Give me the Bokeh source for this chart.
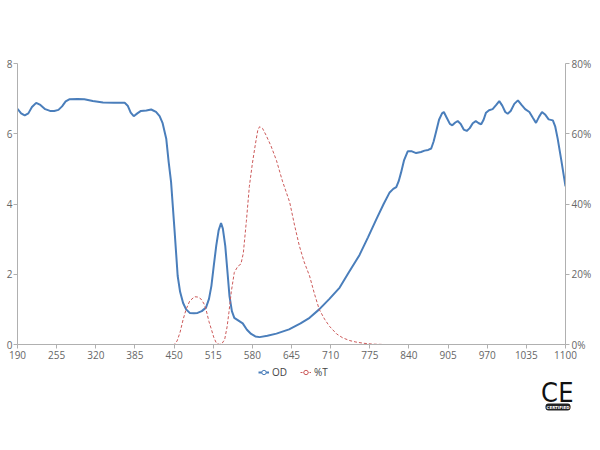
from bokeh.plotting import figure
from bokeh.layouts import column
from bokeh.models import (Range1d, LinearAxis, FixedTicker, PrintfTickFormatter,
                          Legend, LegendItem, Label, ColumnDataSource)
from bokeh.embed import file_html
from bokeh.resources import INLINE

# ---------------- data ----------------
od_nm = [190, 196, 202, 208, 214, 221, 228, 236, 244, 251, 258, 264, 270, 276, 290, 301,
         315, 332, 350, 368, 373, 378, 383, 389, 395, 404, 412, 420, 426, 431, 437, 441,
         445, 451, 456, 460, 465, 470, 476, 483, 489, 496, 503, 508, 512, 516, 520, 524,
         528, 531, 535, 539, 542, 546, 550, 557, 564, 571, 578, 585, 592, 605, 620, 641,
         660, 675, 691, 708, 725, 740, 758, 772, 786, 798, 808, 814, 819, 823, 827, 832,
         838, 845, 852, 860, 866, 872, 877, 881, 885, 890, 895, 898, 903, 908, 912, 917,
         921, 926, 931, 936, 941, 946, 951, 956, 960, 964, 968, 973, 979, 985, 990, 995,
         1000, 1004, 1009, 1015, 1021, 1027, 1033, 1040, 1046, 1051, 1056, 1061, 1066,
         1072, 1079, 1083, 1087, 1093, 1100]
od_val = [6.71, 6.58, 6.52, 6.58, 6.76, 6.88, 6.82, 6.70, 6.65, 6.65, 6.68, 6.78, 6.92,
          6.98, 6.99, 6.98, 6.93, 6.89, 6.88, 6.88, 6.80, 6.60, 6.50, 6.58, 6.65, 6.66,
          6.69, 6.62, 6.50, 6.30, 5.86, 5.20, 4.63, 3.20, 1.95, 1.50, 1.18, 1.00, 0.90,
          0.89, 0.90, 0.95, 1.05, 1.30, 1.67, 2.25, 2.81, 3.25, 3.46, 3.30, 2.81, 2.00,
          1.38, 0.95, 0.76, 0.68, 0.60, 0.42, 0.30, 0.23, 0.21, 0.25, 0.31, 0.43, 0.60,
          0.76, 1.00, 1.30, 1.62, 2.05, 2.55, 3.05, 3.57, 4.00, 4.33, 4.43, 4.48, 4.65,
          4.90, 5.25, 5.50, 5.50, 5.45, 5.48, 5.52, 5.54, 5.58, 5.78, 6.05, 6.40, 6.58,
          6.62, 6.45, 6.28, 6.24, 6.32, 6.36, 6.28, 6.12, 6.08, 6.16, 6.30, 6.36, 6.30,
          6.27, 6.40, 6.60, 6.67, 6.70, 6.82, 6.93, 6.80, 6.62, 6.57, 6.65, 6.85, 6.95,
          6.82, 6.70, 6.62, 6.45, 6.31, 6.48, 6.62, 6.55, 6.41, 6.38, 6.20, 5.86, 5.25,
          4.50]

t_nm = [190, 450, 455, 460, 465, 470, 476, 484, 490, 495, 500, 503, 508, 512, 516, 520,
        525, 530, 534, 538, 541, 545, 550, 556, 561, 565, 570, 575, 580, 585, 589, 592,
        597, 603, 611, 620, 630, 642, 650, 658, 666, 675, 683, 691, 700, 708, 720, 730,
        742, 752, 765, 780, 800, 1100]
t_val = [0, 0, 1.0, 3.5, 7.1, 10.0, 12.4, 13.6, 13.5, 12.9, 11.5, 10.0, 6.5, 4.3, 2.0,
         0.5, 0, 0.4, 1.4, 5.0, 9.0, 15.0, 20.5, 22.3, 22.9, 26.0, 35.0, 45.0, 51.5, 57.0,
         61.0, 62.0, 61.5, 59.5, 56.5, 52.4, 46.5, 40.5, 34.0, 28.1, 23.5, 19.5, 14.5,
         10.0, 7.2, 5.2, 3.0, 1.9, 1.1, 0.7, 0.35, 0.1, 0, 0]

x_ticks = [190, 255, 320, 385, 450, 515, 580, 645, 710, 775, 840, 905, 970, 1035, 1100]
od_ticks = [0, 2, 4, 6, 8]
pct_ticks = [0, 20, 40, 60, 80]
series_names = ["OD", "%T"]

# ---------------- styling ----------------
BLUE = "#4a7ebb"
RED = "#cc5a5a"
AXIS = "#b0b0b0"
LABEL = "#666666"
FONT = "Open Sans"
FRAME_W = 548
FIG_W = 17 + FRAME_W + 26

p = figure(frame_width=FRAME_W, frame_height=281, output_backend="svg", toolbar_location=None,
           x_range=Range1d(190, 1100), y_range=Range1d(0, 8),
           min_border_left=17, min_border_right=26, min_border_top=63,
           min_border_bottom=22, x_axis_location="below", y_axis_location="left")
p.outline_line_color = None
p.xgrid.visible = False
p.ygrid.visible = False
p.extra_y_ranges = {"pct": Range1d(0, 80)}

def style_axis(ax):
    ax.axis_line_color = AXIS
    ax.major_tick_line_color = AXIS
    ax.minor_tick_line_color = None
    ax.major_tick_in = 0
    ax.major_tick_out = 4
    ax.major_label_text_color = LABEL
    ax.major_label_text_font = FONT
    ax.major_label_text_font_size = "10px"
    ax.major_label_standoff = 2

p.xaxis.ticker = FixedTicker(ticks=x_ticks)
p.yaxis.ticker = FixedTicker(ticks=od_ticks)
style_axis(p.xaxis[0])
style_axis(p.yaxis[0])
p.yaxis[0].major_label_standoff = 1

rax = LinearAxis(y_range_name="pct", ticker=FixedTicker(ticks=pct_ticks),
                 formatter=PrintfTickFormatter(format="%d%%"))
style_axis(rax)
p.add_layout(rax, "right")

od_src = ColumnDataSource(dict(x=od_nm, y=od_val))
t_src = ColumnDataSource(dict(x=t_nm, y=t_val))

p.line("x", "y", source=od_src, line_color=BLUE, line_width=2)
p.line("x", "y", source=t_src, line_color=RED, line_width=1,
       line_dash="3 2", y_range_name="pct")

# ---------------- legend + CE mark strip ----------------
q = figure(width=FIG_W, height=70, output_backend="svg", toolbar_location=None,
           y_range=Range1d(0, 70), min_border=0,
           x_axis_type=None, y_axis_type=None)
if "frame_align" in q.properties():
    q.frame_align = False
    q.x_range = Range1d(0, FIG_W)
    off = 0                      # frame spans the whole strip
else:
    q.min_border_left = 17
    q.min_border_right = 26
    q.x_range = Range1d(0, FRAME_W)
    off = 17                     # frame aligned with the main plot frame
q.outline_line_color = None
q.xgrid.visible = False
q.ygrid.visible = False

# legend proxies, kept outside the visible range
l_od = q.line(x=[-50, -40], y=[-50, -50], line_color=BLUE, line_width=2)
s_od = q.scatter(x=[-45], y=[-50], marker="circle", size=5, line_color=BLUE,
                 fill_color="white", line_width=1)
l_t = q.line(x=[-50, -40], y=[-50, -50], line_color=RED, line_width=1, line_dash="2 1")
s_t = q.scatter(x=[-45], y=[-50], marker="circle", size=5, line_color=RED,
                fill_color="white", line_width=1)

legend = Legend(items=[LegendItem(label=series_names[0], renderers=[l_od, s_od]),
                       LegendItem(label=series_names[1], renderers=[l_t, s_t])],
                orientation="horizontal", location=(258 - off, 57),
                border_line_color=None, background_fill_alpha=0,
                label_text_font=FONT, label_text_font_size="10px",
                label_text_color="#444444", glyph_width=11, glyph_height=12,
                label_height=12, label_standoff=3, spacing=8, padding=0, margin=0)
q.add_layout(legend, "center")

CE_FONT = "Liberation Sans Narrow, DejaVu Sans Condensed, sans-serif"
shift = 0 if off == 0 else -7    # keep the mark inside a narrower frame
q.add_layout(Label(x=549 - off + shift, y=44, text="C", text_align="center",
                   text_baseline="middle", text_font=CE_FONT, text_font_size="27px",
                   text_color="#111111"))
q.add_layout(Label(x=565.5 - off + shift, y=44, text="E", text_align="center",
                   text_baseline="middle", text_font=CE_FONT, text_font_size="27px",
                   text_color="#111111"))
q.add_layout(Label(x=557.5 - off + shift, y=29.5, text="CERTIFIED", text_align="center",
                   text_baseline="middle", text_font="DejaVu Sans", text_font_size="4px",
                   text_font_style="bold", text_color="white",
                   background_fill_color="#222222", border_radius=3, padding=1))

layout = column(p, q, spacing=0)
open("out.html", "w").write(file_html(layout, INLINE))
